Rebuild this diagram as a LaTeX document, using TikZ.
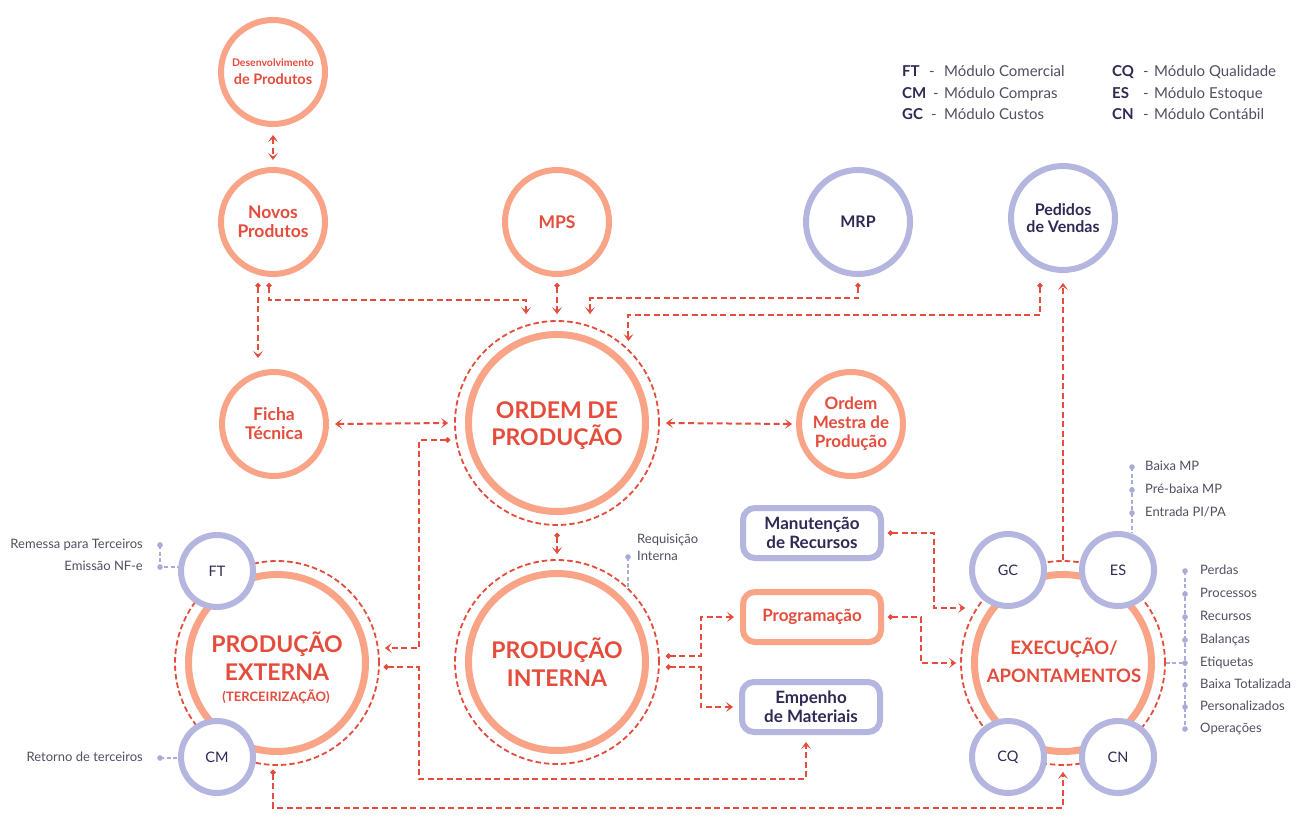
\documentclass[tikz,border=0pt]{standalone}
\usepackage{fontspec}
\setmainfont{Lato}
\usetikzlibrary{arrows.meta}
\definecolor{corange}{RGB}{249,164,134}
\definecolor{cred}{RGB}{228,76,60}
\definecolor{cpurple}{RGB}{180,182,224}
\definecolor{cnavy}{RGB}{46,42,84}
\definecolor{cgray}{RGB}{80,80,98}
\definecolor{cglink}{RGB}{170,172,215}
\tikzset{
  ocirc/.style={circle,draw=corange,line width=6pt,minimum size=104pt,inner sep=0pt,align=center,text=cred,font=\bfseries\fontsize{17.5}{19}\selectfont},
  pcirc/.style={ocirc,draw=cpurple,text=cnavy,font=\bfseries\fontsize{16}{18}\selectfont},
  mcirc/.style={circle,draw=cpurple,line width=6pt,fill=white,minimum size=72pt,inner sep=0pt,text=cnavy,font=\fontsize{14.5}{16}\selectfont},
  bigring/.style={circle,draw=corange,line width=7pt,minimum size=177pt,inner sep=0pt,align=center,text=cred,font=\bfseries\fontsize{23}{28}\selectfont},
  dring/.style={circle,draw=cred,line width=1.8pt,dash pattern=on 5.5pt off 3pt,minimum size=204pt,inner sep=0pt},
  pbox/.style={rectangle,rounded corners=12pt,draw=cpurple,line width=6pt,minimum width=138pt,minimum height=50pt,inner sep=0pt,align=center,text=cnavy,font=\bfseries\fontsize{17}{19}\selectfont},
  obox/.style={pbox,draw=corange,text=cred},
  conn/.style={draw=cred,line width=2pt,dash pattern=on 6pt off 3.5pt},
  dotarrow/.style={arrows={{Circle[length=5pt,width=5pt]}-{Stealth[length=7pt,width=10pt,inset=3.5pt]}}},
  biarrow/.style={arrows={{Stealth[length=7pt,width=10pt,inset=3.5pt]}-{Stealth[length=7pt,width=10pt,inset=3.5pt]}}},
  plainarrow/.style={arrows={-{Stealth[length=7pt,width=10pt,inset=3.5pt]}}},
  gconn/.style={draw=cglink,line width=1.4pt,dash pattern=on 4pt off 2.5pt},
  glist/.style={inner sep=0pt,text=cgray,font=\fontsize{13}{15}\selectfont,text height=9pt,text depth=2pt},
  legab/.style={anchor=west,inner sep=0pt,text=cnavy,font=\bfseries\fontsize{15}{17}\selectfont,text height=10.5pt,text depth=3pt},
  legtx/.style={anchor=west,inner sep=0pt,text=cgray,font=\fontsize{15}{17}\selectfont,text height=10.5pt,text depth=3pt},
}
\begin{document}
\begin{tikzpicture}[x=1pt,y=-1pt]
\fill[white] (0,0) rectangle (1303,816);
\useasboundingbox (0,0) rectangle (1303,816);

% rings
\node[dring] (ordemring) at (557,423) {};
\node[bigring] (ordem) at (557,423) {};
\node[align=center,text=cred,font=\bfseries\fontsize{23}{27}\selectfont] (ordemtext) at (557,426) {ORDEM DE\\PRODUÇÃO};
\node[dring] (internaring) at (557,662) {};
\node[bigring] (interna) at (557,662) {PRODUÇÃO\\INTERNA};
\node[dring] (externaring) at (277,663) {};
\node[bigring] (externa) at (277,663) {};
\node[align=center,text=cred,font=\bfseries\fontsize{23}{28}\selectfont] (externatext) at (277,656) {PRODUÇÃO\\EXTERNA};
\node[text=cred,font=\bfseries\fontsize{13}{15}\selectfont] (terceir) at (276,697) {(TERCEIRIZAÇÃO)};
\node[dring] (execring) at (1063,663) {};
\node[bigring] (exec) at (1063,663) {};
\node[align=center,text=cred,font=\bfseries\fontsize{18.5}{28}\selectfont] (exectext) at (1064,660) {EXECUÇÃO/\\APONTAMENTOS};

% module circles
\node[mcirc] (ft) at (217,571) {FT};
\node[mcirc] (cm) at (217,757) {CM};
\node[mcirc] (gc) at (1008,570) {GC};
\node[mcirc] (es) at (1118,570) {ES};
\node[mcirc] (cq) at (1008,757) {CQ};
\node[mcirc] (cn) at (1118,757) {CN};

% medium circles
\node[ocirc] (desenv) at (273,72) {{\fontsize{10.5}{12}\selectfont Desenvolvimento}\\[-1pt]{\fontsize{14.5}{16}\selectfont de Produtos}};
\node[ocirc] (novos) at (273,222) {Novos\\Produtos};
\node[ocirc] (mps) at (557,222) {MPS};
\node[pcirc] (mrp) at (858,222) {MRP};
\node[pcirc,font=\bfseries\fontsize{16}{17}\selectfont] (pedidos) at (1063,218) {Pedidos\\de Vendas};
\node[ocirc] (ficha) at (274,424) {Ficha\\Técnica};
\node[ocirc,font=\bfseries\fontsize{17}{19}\selectfont] (mestra) at (851,424) {Ordem\\Mestra de\\Produção};

% boxes
\node[pbox] (manut) at (812,533) {Manutenção\\de Recursos};
\node[obox] (prog) at (812,617) {Programação};
\node[pbox] (empenho) at (811,707) {Empenho\\de Materiais};

% legend
\node[legab] (lgft) at (902,73) {FT};
\node[legtx] (lgfth) at (929,73) {-};
\node[legtx] (lgftt) at (944,73) {Módulo Comercial};
\node[legab] (lgcm) at (902,95) {CM};
\node[legtx] (lgcmh) at (933,95) {-};
\node[legtx] (lgcmt) at (944,95) {Módulo Compras};
\node[legab] (lggc) at (902,116) {GC};
\node[legtx] (lggch) at (931,116) {-};
\node[legtx] (lggct) at (944,116) {Módulo Custos};
\node[legab] (lgcq) at (1112,73) {CQ};
\node[legtx] (lgcqh) at (1143,73) {-};
\node[legtx] (lgcqt) at (1154,73) {Módulo Qualidade};
\node[legab] (lges) at (1112,95) {ES};
\node[legtx] (lgesh) at (1143,95) {-};
\node[legtx] (lgest) at (1154,95) {Módulo Estoque};
\node[legab] (lgcn) at (1112,116) {CN};
\node[legtx] (lgcnh) at (1143,116) {-};
\node[legtx] (lgcnt) at (1154,116) {Módulo Contábil};

% grey lists
\node[glist,anchor=east] (remessa) at (143,545) {Remessa para Terceiros};
\node[glist,anchor=east] (emissao) at (143,567) {Emissão NF-e};
\node[glist,anchor=east] (retorno) at (143,758) {Retorno de terceiros};
\coordinate (gr1) at ([xshift=17pt]remessa.east);
\coordinate (gr2) at ([xshift=17pt]emissao.east);
\coordinate (gr3) at ([xshift=17pt]retorno.east);
\draw[gconn] (gr1) -- (gr2) -- (gr2 -| ft.west);
\draw[gconn] (gr3) -- (gr3 -| cm.west);
\foreach \p in {gr1,gr2,gr3} \fill[cglink] (\p) circle (2.8);

\node[glist,anchor=west] (bmp) at (1145,467) {Baixa MP};
\node[glist,anchor=west] (pbmp) at (1145,490) {Pré-baixa MP};
\node[glist,anchor=west] (epa) at (1145,513) {Entrada PI/PA};
\coordinate (ge1) at ([xshift=-13pt]bmp.west);
\coordinate (ge2) at ([xshift=-13pt]pbmp.west);
\coordinate (ge3) at ([xshift=-13pt]epa.west);
\draw[gconn] (ge1) -- (ge1 |- es.70);
\foreach \p in {ge1,ge2,ge3} \fill[cglink] (\p) circle (2.8);

\node[glist,anchor=west] (la) at (1200,571) {Perdas};
\node[glist,anchor=west] (lb) at (1200,594) {Processos};
\node[glist,anchor=west] (lc) at (1200,617) {Recursos};
\node[glist,anchor=west] (ld) at (1200,640) {Balanças};
\node[glist,anchor=west] (le) at (1200,663) {Etiquetas};
\node[glist,anchor=west] (lf) at (1200,685) {Baixa Totalizada};
\node[glist,anchor=west] (lg) at (1200,707) {Personalizados};
\node[glist,anchor=west] (lh) at (1200,729) {Operações};
\foreach \n in {a,b,c,d,e,f,g,h} \coordinate (gp\n) at ([xshift=-15pt]l\n.west);
\draw[gconn] (gpa) -- (gph);
\draw[gconn] (execring.east) -- (gpe);
\foreach \n in {a,b,c,d,e,f,g,h} \fill[cglink] (gp\n) circle (2.8);

\node[glist,anchor=west] (req1) at (637,540) {Requisição};
\node[glist,anchor=west] (req2) at (637,557) {Interna};
\coordinate (gq) at ([xshift=-9pt]req2.west);
\draw[gconn] (gq) -- (gq |- internaring.46);
\fill[cglink] (gq) circle (2.8);

% red connectors
\draw[conn,biarrow] ([yshift=-8pt]desenv.south) -- ([yshift=7pt]novos.north);
\draw[conn,dotarrow] ([xshift=-15pt,yshift=-6pt]novos.south) -- ([xshift=-16pt,yshift=11pt]ficha.north);
\draw[conn,dotarrow] ([xshift=-4pt,yshift=-6pt]novos.south) -- ++(0,17) -| ([xshift=-31pt,yshift=6pt]ordemring.north);
\draw[conn,dotarrow] ([yshift=-6pt]mps.south) -- ([yshift=6pt]ordemring.north);
\draw[conn,dotarrow] ([yshift=-6pt]mrp.south) -- ++(0,15) -| ([xshift=33pt,yshift=6pt]ordemring.north);
\draw[conn,dotarrow] ([xshift=-23pt,yshift=-10pt]pedidos.south) -- ++(0,32) -| ([yshift=8pt]ordemring.46);
\draw[conn,biarrow] ([xshift=6pt]ficha.east) -- ([xshift=-6pt]ordemring.west);
\draw[conn,biarrow] ([xshift=6pt]ordemring.east) -- ([xshift=-4pt]mestra.west);
\draw[conn,dotarrow] ([yshift=-7pt]ordemring.south) -- ([yshift=5pt]internaring.north);
\draw[conn,dotarrow] ([xshift=-4pt,yshift=-17pt]ordemring.west) -- ++(-31,0) |- ([xshift=5pt,yshift=15pt]externaring.east);
\draw[conn,dotarrow] ([xshift=4pt,yshift=-4pt]externaring.east) -- ++(35,0) -- ++(0,112) -| ([xshift=-5pt,yshift=-7pt]empenho.south);
\draw[conn,dotarrow] ([xshift=6pt,yshift=6pt]internaring.east) -- ++(35,0) |- ([xshift=-6pt]prog.west);
\draw[conn,dotarrow] ([xshift=6pt,yshift=-5pt]internaring.east) -- ++(35,0) |- ([xshift=-6pt]empenho.west);
\draw[conn,dotarrow] ([xshift=4pt]manut.east) -- ++(46,0) |- ([xshift=5pt,yshift=55pt]execring.west);
\draw[conn,dotarrow] ([xshift=4pt]prog.east) -- ++(33,0) |- ([xshift=-4pt]execring.west);
\draw[conn,plainarrow] (execring.north) -- ([yshift=-10pt]pedidos.south);
\draw[conn,dotarrow] ([xshift=-4pt,yshift=-4pt]externaring.south) -- ++(0,38) -| ([yshift=-6pt]execring.south);
\end{tikzpicture}
\end{document}
